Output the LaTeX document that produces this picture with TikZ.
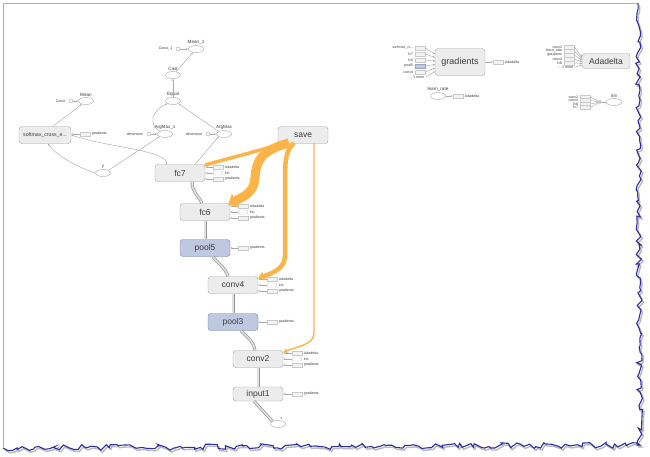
\documentclass[tikz,border=0pt]{standalone}
\usepackage{fontspec}
\setmainfont{Liberation Sans}
\usetikzlibrary{shapes.geometric,arrows.meta,decorations.pathmorphing,calc}
\definecolor{opfill}{RGB}{236,236,236}
\definecolor{opdraw}{RGB}{165,165,165}
\definecolor{poolfill}{RGB}{190,200,225}
\definecolor{pooldraw}{RGB}{115,128,165}
\definecolor{edgegray}{RGB}{170,170,170}
\definecolor{dbldraw}{RGB}{150,150,150}
\definecolor{dblfill}{RGB}{225,225,225}
\definecolor{orangeedge}{RGB}{252,180,72}
\definecolor{framelav}{RGB}{165,165,232}
\definecolor{framedark}{RGB}{45,45,160}
\definecolor{txt}{RGB}{60,60,60}
\begin{document}
\begin{tikzpicture}[x=1pt,y=-1pt,
  op/.style={rectangle, rounded corners=3pt, draw=opdraw, fill=opfill, minimum width=50pt, minimum height=17pt, inner sep=0pt, font=\fontsize{8.5}{8.5}\selectfont, text=txt},
  poolop/.style={op, fill=poolfill, draw=pooldraw},
  el/.style={ellipse, draw=opdraw, fill=white, minimum width=15pt, minimum height=7pt, inner sep=0pt},
  cdot/.style={circle, draw=opdraw, fill=white, minimum size=4pt, inner sep=0pt},
  stub/.style={rectangle, draw=opdraw!60, fill=opfill!70, minimum width=10pt, minimum height=4pt, inner sep=0pt},
  stubw/.style={stub, fill=white, rounded corners=1.5pt},
  stubb/.style={stub, fill=poolfill, draw=pooldraw!70},
  tinylab/.style={font=\fontsize{3.6}{4}\selectfont, text=txt, inner sep=1.5pt},
  lab/.style={font=\fontsize{4.6}{5}\selectfont, text=txt, inner sep=0.5pt},
  edge/.style={draw=edgegray, line width=0.45pt, -{Stealth[length=2.2pt,width=1.8pt]}},
  plain/.style={draw=edgegray, line width=0.45pt},
  dbl/.style={draw=dbldraw, double=dblfill, double distance=1.6pt, line width=0.7pt},
  oedge/.style={draw=orangeedge, line cap=butt}
]
\useasboundingbox (0,0) rectangle (650,456);
\fill[white] (0,0) rectangle (650,456);

% ---------- frame ----------
\draw[framelav, line width=0.9pt] (637,3) -- (3,3) -- (3,447);
\pgfmathsetseed{11}
\draw[gray!55, line width=1.4pt, decorate, decoration={random steps, segment length=4pt, amplitude=3pt}]
  (639.5,5) -- (641.5,447) -- (5,450);
\pgfmathsetseed{11}
\draw[framedark, line width=1.1pt, decorate, decoration={random steps, segment length=4pt, amplitude=3pt}]
  (638,3) -- (640,445) -- (3,448);

% ---------- main chain ----------
\node[op] (fc7) at (180,173) {fc7};
\node[op] (fc6) at (205,212) {fc6};
\node[poolop] (pool5) at (205,248) {pool5};
\node[op] (conv4) at (233,285) {conv4};
\node[poolop] (pool3) at (233,322) {pool3};
\node[op] (conv2) at (258,359) {conv2};
\node[op, minimum height=14pt] (input1) at (258,394) {input1};
\node[el] (xin) at (278,424) {};
\node[tinylab, anchor=south west] (xlab) at (279,421) {x};
\node[op] (save) at (303,135) {save};
\node[op, minimum width=52pt, font=\fontsize{5.2}{6}\selectfont] (sm) at (45,135) {softmax\_cross\_e...};

% ---------- small ops ----------
\node[el] (mean1) at (196,49) {};
\node[lab, anchor=south] at (mean1.north) {Mean\_1};
\node[cdot] (c1) at (178,49) {};
\node[tinylab, anchor=east] at (174,49) {Const\_1};
\node[el] (cast) at (173,75) {};
\node[lab, anchor=south] at (cast.north) {Cast};
\node[el] (equal) at (173,101) {};
\node[lab, anchor=south] at (equal.north) {Equal};
\node[el] (mean) at (86,101) {};
\node[lab, anchor=south] at (mean.north) {Mean};
\node[cdot] (c0) at (71,101) {};
\node[tinylab, anchor=east] at (67,101) {Const};
\node[el] (am1) at (165,134) {};
\node[lab, anchor=south] at (am1.north) {ArgMax\_1};
\node[cdot] (d1) at (149,134) {};
\node[tinylab, anchor=east] at (145,134) {dimension};
\node[el] (am) at (224,134) {};
\node[lab, anchor=south] at (am.north) {ArgMax};
\node[cdot] (d0) at (208,134) {};
\node[tinylab, anchor=east] at (204,134) {dimension};
\node[el] (yy) at (103,173) {};
\node[lab, anchor=south] at (yy.north) {y};

% ---------- gray connectors ----------
\draw[edge] (c1) -- (mean1);
\draw[edge] (cast) -- (mean1);
\draw[edge] (equal) -- (cast);
\draw[edge] (c0) -- (mean);
\draw[edge] ($(sm.north)+(8,0)$) -- (mean);
\draw[edge] (am1.north west) .. controls (148,124) and (152,110) .. (equal.south west);
\draw[edge] (am.north west) -- (equal.south east);
\draw[edge] (d1) -- (am1);
\draw[edge] (d0) -- (am);
\draw[edge] (yy.west) .. controls (85,170) and (58,158) .. ($(sm.south)+(3,0)$);
\draw[edge] (yy.north east) -- (am1.south west);
\draw[edge] ($(fc7.north west)+(12,0)$) .. controls (168,150) and (110,148) .. (sm.east);
\draw[edge] ($(fc7.north east)+(-10,0)$) -- (am.south west);
\draw[dbl] ($(fc6.north)+(-3,0)$) .. controls (198,195) and (192,192) .. ($(fc7.south)+(12,0)$);
\draw[dbl] (pool5.north) -- (fc6.south);
\draw[dbl] ($(conv4.north)+(-5,0)$) .. controls (226,268) and (216,262) .. ($(pool5.south)+(8,0)$);
\draw[dbl] (pool3.north) -- (conv4.south);
\draw[dbl] ($(conv2.north)+(-3,0)$) .. controls (254,342) and (246,336) .. ($(pool3.south)+(8,0)$);
\draw[dbl] (input1.north) -- (conv2.south);
\draw[dbl] (xin.north west) -- ($(input1.south)+(-4,0)$);

% ---------- stubs on the right of ops ----------
\node[stub, label={[tinylab]right:Adadelta}] (fc7a) at (218,167) {};
\node[stubw, label={[tinylab]right:init}] (fc7i) at (218,173) {};
\node[stub, label={[tinylab]right:gradients}] (fc7g) at (218,179) {};
\node[stub, label={[tinylab]right:Adadelta}] (fc6a) at (243,206) {};
\node[stubw, label={[tinylab]right:init}] (fc6i) at (243,212) {};
\node[stub, label={[tinylab]right:gradients}] (fc6g) at (243,218) {};
\node[stub, label={[tinylab]right:gradients}] (p5g) at (243,248) {};
\node[stub, label={[tinylab]right:Adadelta}] (c4a) at (272,279) {};
\node[stubw, label={[tinylab]right:init}] (c4i) at (272,285) {};
\node[stub, label={[tinylab]right:gradients}] (c4g) at (272,291) {};
\node[stub, label={[tinylab]right:gradients}] (p3g) at (272,322) {};
\node[stub, label={[tinylab]right:Adadelta}] (c2a) at (297,353) {};
\node[stubw, label={[tinylab]right:init}] (c2i) at (297,359) {};
\node[stub, label={[tinylab]right:gradients}] (c2g) at (297,365) {};
\node[stub, label={[tinylab]right:gradients}] (i1g) at (297,394) {};
\node[stub, label={[tinylab]right:gradients}] (smg) at (85,134) {};
\foreach \s/\t in {fc7a/fc7,fc7i/fc7,fc7g/fc7,fc6a/fc6,fc6i/fc6,fc6g/fc6,p5g/pool5,c4a/conv4,c4i/conv4,c4g/conv4,p3g/pool3,c2a/conv2,c2i/conv2,c2g/conv2,i1g/input1,smg/sm}
  \draw[edge] (\s.west) -- (\s.west -| \t.east);

% ---------- orange connectors from save ----------
\coordinate (s1) at (284,143);
\coordinate (s2) at (289,143);
\coordinate (s3) at (294,143);
\coordinate (s4) at (314,143);
\draw[oedge, line width=3.5pt, -{Triangle[length=3pt,width=5pt]}] (s1) .. controls (262,150) and (230,158) .. ($(fc7.north east)+(-1,1)$);
\draw[oedge, line width=9pt, -{Triangle[length=8pt,width=15pt]}] (s2) .. controls (262,150) and (256,160) .. (255,178) .. controls (254,192) and (245,196) .. ($(fc6.north east)+(-2,1)$);
\draw[oedge, line width=4.5pt, -{Triangle[length=6pt,width=9pt]}] (s3) .. controls (286,150) and (285,160) .. (285,180) -- (285,255) .. controls (285,268) and (275,272) .. ($(conv4.north east)+(0,2)$);
\draw[oedge, line width=1.4pt, -{Triangle[length=4pt,width=4.5pt]}] (s4) .. controls (314,150) and (314,160) .. (314,175) -- (314,333) .. controls (314,345) and (298,346) .. ($(conv2.north east)+(0,2)$);

% ---------- gradients block (right) ----------
\node[op, minimum width=50pt, minimum height=27pt, font=\fontsize{9}{9}\selectfont] (grad) at (460,62) {gradients};
\node[stub, label={[tinylab]left:softmax\_cr...}] (g1) at (420,48) {};
\node[stub, label={[tinylab]left:fc7}] (g2) at (420,54) {};
\node[stub, label={[tinylab]left:fc6}] (g3) at (420,60) {};
\node[stubb, label={[tinylab]left:pool5}] (g4) at (420,66) {};
\node[stub, label={[tinylab]left:conv4}] (g5) at (420,72) {};
\node[tinylab, anchor=east] (g6) at (426,77) {... 3 more};
\draw[edge] (g1.east) -- (435,54);
\draw[edge] (g2.east) -- (435,57.5);
\draw[edge] (g3.east) -- (435,61);
\draw[edge] (g4.east) -- (435,64.5);
\draw[edge] (g5.east) -- (435,68);
\draw[edge] (g6.east) -- (435,71.5);
\node[stub, label={[tinylab]right:Adadelta}] (gout) at (498,62) {};
\draw[edge] (grad.east) -- (gout.west);
\node[el] (lr) at (438,96) {};
\node[lab, anchor=south] at (lr.north) {learn\_rate};
\node[stub, label={[tinylab]right:Adadelta}] (lrout) at (458,96) {};
\draw[edge] (lr.east) -- (lrout.west);

% ---------- Adadelta block ----------
\node[op, minimum width=48pt, minimum height=15pt, font=\fontsize{8.5}{8.5}\selectfont] (ada) at (606,61) {Adadelta};
\node[stub, label={[tinylab]left:conv2}] (a1) at (569,47) {};
\node[stub, label={[tinylab]left:learn\_rate}] (a2) at (569,51) {};
\node[stub, label={[tinylab]left:gradients}] (a3) at (569,55) {};
\node[stub, label={[tinylab]left:conv4}] (a4) at (569,59) {};
\node[stub, label={[tinylab]left:fc6}] (a5) at (569,63) {};
\node[tinylab, anchor=east] (a6) at (575,67) {... 1 more};
\draw[edge] (a1.east) -- (582,57);
\draw[edge] (a2.east) -- (582,58.6);
\draw[edge] (a3.east) -- (582,60.2);
\draw[edge] (a4.east) -- (582,61.8);
\draw[edge] (a5.east) -- (582,63.4);
\draw[edge] (a6.east) -- (582,65);

% ---------- init block ----------
\node[el, minimum width=16pt] (init) at (614,102) {};
\node[lab, anchor=south] at (init.north) {init};
\node[circle, draw=opdraw, fill=opfill, minimum size=3pt, inner sep=0pt] (junc) at (600,102) {};
\node[stub, label={[tinylab]left:conv2}] (i1) at (585,97) {};
\node[stub, label={[tinylab]left:conv4}] (i2) at (585,100.5) {};
\node[stub, label={[tinylab]left:fc6}] (i3) at (585,104) {};
\node[stub, label={[tinylab]left:fc7}] (i4) at (585,107.5) {};
\foreach \s in {i1,i2,i3,i4} \draw[plain] (\s.east) -- (junc);
\draw[plain] (junc) -- (init.west);
\end{tikzpicture}
\end{document}
